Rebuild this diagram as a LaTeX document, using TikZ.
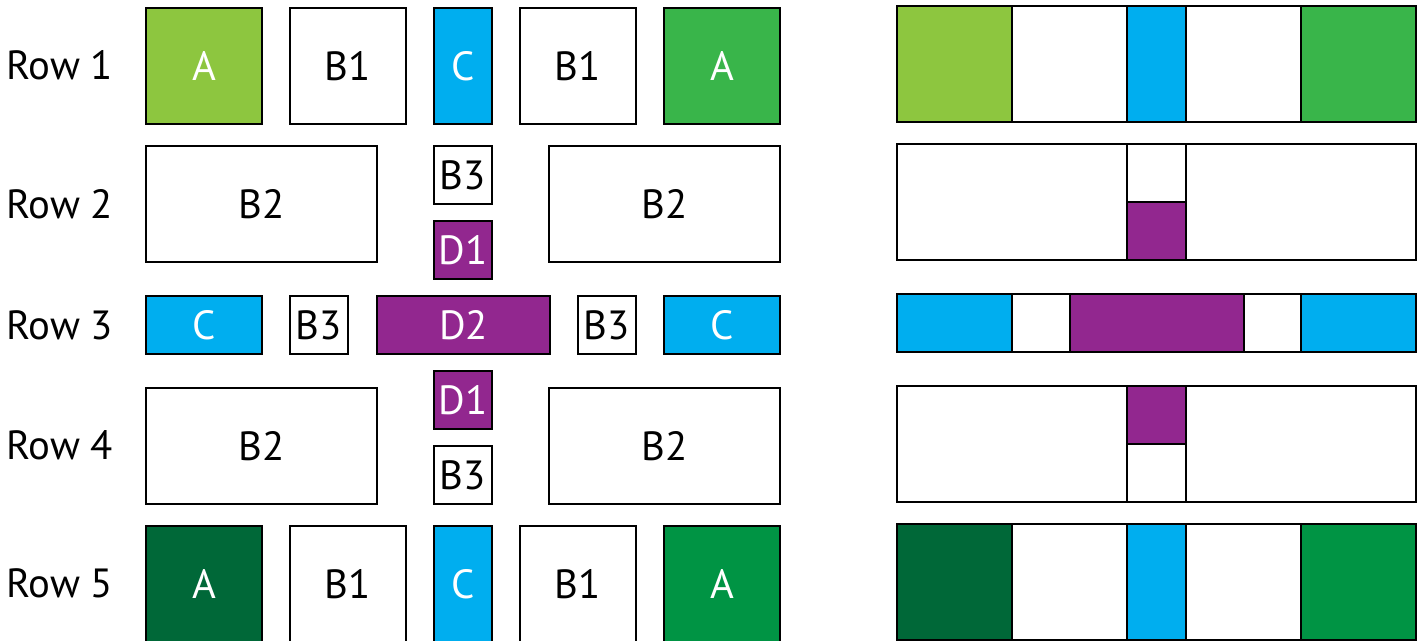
\documentclass[tikz,border=0pt]{standalone}
\usepackage{fontspec}
\setmainfont{PT Sans}
\definecolor{lgreen}{HTML}{8DC63F}
\definecolor{mgreen}{HTML}{39B54A}
\definecolor{cyanC}{HTML}{00AEEF}
\definecolor{purpD}{HTML}{92278F}
\definecolor{dgreen}{HTML}{006838}
\definecolor{fgreen}{HTML}{009444}
\tikzset{
  cell/.style={draw=black, line width=1.4pt},
  wt/.style={text=white},
  rowlab/.style={anchor=west, inner sep=0pt},
}
\begin{document}
\begin{tikzpicture}[x=0.02cm, y=-0.02cm, line join=miter, font=\fontsize{23.2}{28}\selectfont]
\useasboundingbox (0,0) rectangle (1421,640);
% Nhãn hàng
\node[rowlab] (lab1) at (6,65) {Row 1}; \node[rowlab] (lab2) at (6,204) {Row 2}; \node[rowlab] (lab3) at (6,325) {Row 3};
\node[rowlab] (lab4) at (6,445) {Row 4}; \node[rowlab] (lab5) at (6,583) {Row 5};
% Row 1
\draw[cell, fill=lgreen] (146,8) rectangle (262,124) node[midway, wt] (a1l) {A}; \draw[cell] (290,8) rectangle (406,124) node[midway] (b1l) {B1};
\draw[cell, fill=cyanC] (434,8) rectangle (492,124) node[midway, wt] (c1) {C}; \draw[cell] (520,8) rectangle (636,124) node[midway] (b1r) {B1};
\draw[cell, fill=mgreen] (664,8) rectangle (780,124) node[midway, wt] (a1r) {A};
% Row 2
\draw[cell] (146,146) rectangle (377,262) node[midway] (b2l) {B2}; \draw[cell] (434,146) rectangle (492,204) node[midway] (b3t) {B3};
\draw[cell, fill=purpD] (434,221) rectangle (492,279) node[midway, wt] (d1t) {D1}; \draw[cell] (549,146) rectangle (780,262) node[midway] (b2r) {B2};
% Row 3
\draw[cell, fill=cyanC] (146,296) rectangle (262,354) node[midway, wt] (c3l) {C}; \draw[cell] (290,296) rectangle (348,354) node[midway] (b3l) {B3};
\draw[cell, fill=purpD] (377,296) rectangle (550,354) node[midway, wt] (d2) {D2}; \draw[cell] (578,296) rectangle (636,354) node[midway] (b3r) {B3};
\draw[cell, fill=cyanC] (664,296) rectangle (780,354) node[midway, wt] (c3r) {C};
% Row 4
\draw[cell, fill=purpD] (434,371) rectangle (492,429) node[midway, wt] (d1b) {D1}; \draw[cell] (146,388) rectangle (377,504) node[midway] (b4l) {B2};
\draw[cell] (434,446) rectangle (492,504) node[midway] (b3b) {B3}; \draw[cell] (549,388) rectangle (780,504) node[midway] (b4r) {B2};
% Row 5
\draw[cell, fill=dgreen] (146,526) rectangle (262,642) node[midway, wt] (a5l) {A}; \draw[cell] (290,526) rectangle (406,642) node[midway] (b5l) {B1};
\draw[cell, fill=cyanC] (434,526) rectangle (492,642) node[midway, wt] (c5) {C}; \draw[cell] (520,526) rectangle (636,642) node[midway] (b5r) {B1};
\draw[cell, fill=fgreen] (664,526) rectangle (780,642) node[midway, wt] (a5r) {A};
% Khối bên phải
% Hàng 1
\draw[cell, fill=lgreen] (897,6) rectangle (1012,122); \draw[cell] (1012,6) rectangle (1127,122); \draw[cell, fill=cyanC] (1127,6) rectangle (1186,122);
\draw[cell] (1186,6) rectangle (1301,122); \draw[cell, fill=mgreen] (1301,6) rectangle (1416,122);
% Hàng 2
\draw[cell] (897,144) rectangle (1127,260); \draw[cell] (1127,144) rectangle (1186,202); \draw[cell, fill=purpD] (1127,202) rectangle (1186,260);
\draw[cell] (1186,144) rectangle (1416,260);
% Hàng 3
\draw[cell, fill=cyanC] (897,294) rectangle (1012,352); \draw[cell] (1012,294) rectangle (1070,352); \draw[cell, fill=purpD] (1070,294) rectangle (1244,352);
\draw[cell] (1244,294) rectangle (1301,352); \draw[cell, fill=cyanC] (1301,294) rectangle (1416,352);
% Hàng 4
\draw[cell] (897,386) rectangle (1127,502); \draw[cell, fill=purpD] (1127,386) rectangle (1186,444); \draw[cell] (1127,444) rectangle (1186,502);
\draw[cell] (1186,386) rectangle (1416,502);
% Hàng 5
\draw[cell, fill=dgreen] (897,524) rectangle (1012,640); \draw[cell] (1012,524) rectangle (1127,640); \draw[cell, fill=cyanC] (1127,524) rectangle (1186,640);
\draw[cell] (1186,524) rectangle (1301,640); \draw[cell, fill=fgreen] (1301,524) rectangle (1416,640);
\end{tikzpicture}
\end{document}
